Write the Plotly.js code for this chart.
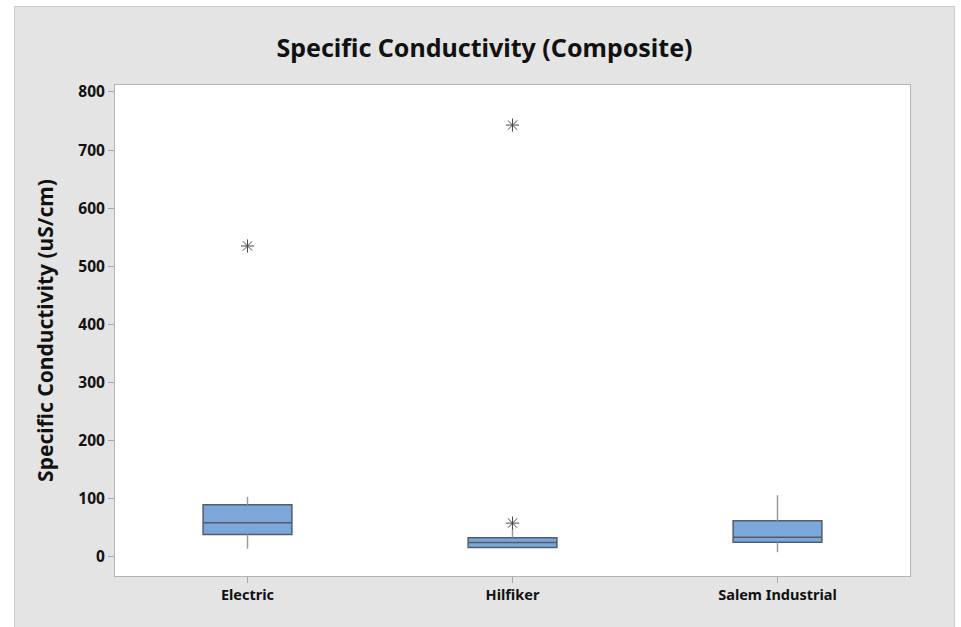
<!DOCTYPE html>
<html>
<head>
<meta charset="utf-8">
<script src="https://cdn.plot.ly/plotly-3.0.1.min.js"></script>
<style>
  html, body { margin: 0; padding: 0; background: #ffffff; }
  #chart {
    position: absolute; left: 14px; top: 6px;
    width: 939px; height: 621px;
    border: 1px solid #cdcdcd; border-bottom: none;
    background: #e4e4e4;
  }
</style>
</head>
<body>
<div id="chart"></div>
<script>
// ---- data ----
const categories   = ["Electric", "Hilfiker", "Salem Industrial"];
const lowerWhisker = [14, 16, 8];
const q1Values     = [38.5, 16.2, 25];
const medianValues = [58.5, 24.8, 33.5];
const q3Values     = [89.5, 33, 62];
const upperWhisker = [103, 48, 106];
const outlierCats   = ["Electric", "Hilfiker", "Hilfiker"];
const outlierValues = [535, 58, 743];
const yTickValues  = [0, 100, 200, 300, 400, 500, 600, 700, 800];

const FONT = "'Noto Sans', 'Open Sans', sans-serif";

// whisker segments built from the whisker arrays
const wx = [], wy = [];
categories.forEach((c, i) => {
  wx.push(c, c, null, c, c, null);
  wy.push(q3Values[i], upperWhisker[i], null, q1Values[i], lowerWhisker[i], null);
});

const traces = [
  {
    type: "scatter", mode: "lines", x: wx, y: wy,
    line: { color: "#9a9a9a", width: 1.5 },
    hoverinfo: "skip", showlegend: false
  },
  {
    type: "box", x: categories,
    q1: q1Values, median: medianValues, q3: q3Values,
    lowerfence: q1Values, upperfence: q3Values,
    width: 0.335, whiskerwidth: 0,
    fillcolor: "#7ba7db",
    line: { color: "#565c68", width: 1.5 },
    boxpoints: false, showlegend: false
  },
  {
    type: "scatter", mode: "markers", x: outlierCats, y: outlierValues,
    marker: { symbol: "asterisk-open", size: 11, color: "#4a4a4a",
              line: { color: "#4a4a4a", width: 1 } },
    showlegend: false
  }
];

const layout = {
  width: 939, height: 620,
  margin: { l: 100, r: 44, t: 78, b: 51 },
  paper_bgcolor: "#e4e4e4",
  plot_bgcolor: "#ffffff",
  font: { family: FONT, color: "#111111" },
  title: {
    text: "<b>Specific Conductivity (Composite)</b>",
    font: { family: FONT, size: 25, color: "#111111" },
    xref: "container", x: 0.5, xanchor: "center",
    yref: "container", y: 0.934, yanchor: "middle"
  },
  xaxis: {
    type: "category", range: [-0.5, 2.5],
    showline: true, mirror: true, linecolor: "#b4b4b4", linewidth: 1,
    ticks: "outside", ticklen: 6, tickcolor: "#a8a8a8",
    tickfont: { family: FONT, size: 14.5, color: "#111111", weight: "bold" },
    showgrid: false, zeroline: false, fixedrange: true
  },
  yaxis: {
    range: [-33, 812],
    tickmode: "array", tickvals: yTickValues,
    showline: true, mirror: true, linecolor: "#b4b4b4", linewidth: 1,
    ticks: "outside", ticklen: 6, tickcolor: "#a8a8a8",
    tickfont: { family: FONT, size: 15.5, color: "#111111", weight: "bold" },
    showgrid: false, zeroline: false, automargin: false,
    title: {
      text: "<b>Specific Conductivity (uS/cm)</b>",
      font: { family: FONT, size: 21, color: "#111111" },
      standoff: 18
    },
    fixedrange: true
  }
};

Plotly.newPlot("chart", traces, layout, { displayModeBar: false, staticPlot: true });
</script>
</body>
</html>
